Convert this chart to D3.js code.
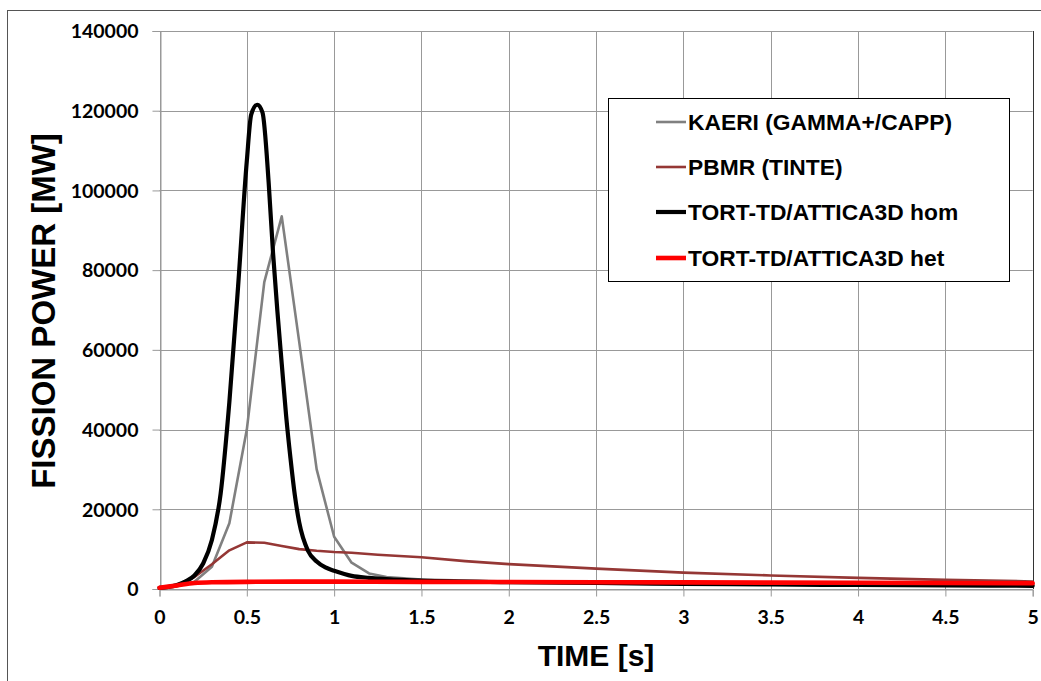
<!DOCTYPE html>
<html>
<head>
<meta charset="utf-8">
<script src="https://cdn.jsdelivr.net/npm/d3@7"></script>
<style>
  html, body { margin: 0; padding: 0; background: #fff; }
  svg { display: block; }
</style>
</head>
<body>
<svg id="chart" width="1041" height="681"></svg>
<script>
// Fission power transient: code-to-code comparison

// KAERI (GAMMA+/CAPP)
const kaeriTime  = [0, 0.1, 0.2, 0.3, 0.4, 0.5, 0.6, 0.7, 0.8, 0.9, 1.0, 1.1, 1.2, 1.3, 1.5, 2.0, 2.5, 3.0, 3.5, 4.0, 4.5, 5.0];
const kaeriPower = [300, 700, 1800, 5600, 16500, 40000, 77000, 93500, 62000, 30000, 13100, 6600, 3900, 3000, 2400, 1900, 1700, 1500, 1400, 1300, 1250, 1200];

// PBMR (TINTE)
const pbmrTime  = [0, 0.1, 0.2, 0.3, 0.4, 0.5, 0.6, 0.7, 0.8, 0.9, 1.0, 1.1, 1.25, 1.5, 1.75, 2.0, 2.5, 3.0, 3.5, 4.0, 4.5, 5.0];
const pbmrPower = [300, 1000, 3000, 6200, 9700, 11700, 11600, 10800, 10000, 9600, 9300, 9100, 8600, 7950, 7000, 6250, 5100, 4100, 3400, 2800, 2300, 1900];

// TORT-TD/ATTICA3D homogeneous
const homTime  = [0, 0.05, 0.1, 0.15, 0.2, 0.25, 0.3, 0.35, 0.4, 0.45, 0.5, 0.525, 0.56, 0.59, 0.625, 0.65, 0.675, 0.7, 0.725, 0.75, 0.775, 0.8, 0.85, 0.9, 0.95, 1.0, 1.1, 1.2, 1.3, 1.5, 2.0, 2.5, 3.0, 3.5, 4.0, 4.5, 5.0];
const homPower = [300, 500, 1000, 1900, 3400, 6400, 12300, 23900, 46900, 75900, 107400, 119000, 121500, 119500, 102000, 84400, 69700, 56500, 43500, 32800, 23500, 16700, 9600, 6900, 5400, 4600, 3300, 2800, 2500, 2100, 1700, 1500, 1300, 1150, 1000, 900, 800];

// TORT-TD/ATTICA3D heterogeneous
const hetTime  = [0, 0.1, 0.2, 0.3, 0.5, 1.0, 1.5, 2.0, 3.0, 4.0, 5.0];
const hetPower = [300, 900, 1500, 1700, 1800, 1850, 1800, 1750, 1650, 1550, 1450];

const xTicks = [0, 0.5, 1, 1.5, 2, 2.5, 3, 3.5, 4, 4.5, 5];
const yTicks = [0, 20000, 40000, 60000, 80000, 100000, 120000, 140000];

const seriesNames = ["KAERI (GAMMA+/CAPP)", "PBMR (TINTE)", "TORT-TD/ATTICA3D hom", "TORT-TD/ATTICA3D het"];

const series = [
  { name: seriesNames[0], t: kaeriTime, p: kaeriPower, color: "#808080", width: 2.6, curve: d3.curveLinear },
  { name: seriesNames[1], t: pbmrTime,  p: pbmrPower,  color: "#953735", width: 2.6, curve: d3.curveLinear },
  { name: seriesNames[2], t: homTime,   p: homPower,   color: "#000000", width: 4.2, curve: d3.curveMonotoneX },
  { name: seriesNames[3], t: hetTime,   p: hetPower,   color: "#ff0000", width: 4.6, curve: d3.curveMonotoneX }
];

const svg = d3.select("#chart");
const W = 1041, H = 681;
const plot = { left: 159.5, right: 1032.7, top: 31, bottom: 589 };

// chart frame
svg.append("rect").attr("x", 0).attr("y", 0).attr("width", W).attr("height", H).attr("fill", "#fff");
svg.append("rect")
  .attr("x", 7.5).attr("y", 10.5).attr("width", 1045).attr("height", 690)
  .attr("fill", "none").attr("stroke", "#555").attr("stroke-width", 1);

const x = d3.scaleLinear().domain([0, 5]).range([plot.left, plot.right]);
const y = d3.scaleLinear().domain([0, 140000]).range([plot.bottom, plot.top]);

const tickFont = "Lato, 'Open Sans', sans-serif";
const titleFont = "'Liberation Sans', Arial, sans-serif";

// gridlines
const grid = svg.append("g");
grid.selectAll("line.h").data(yTicks).join("line")
  .attr("x1", plot.left).attr("x2", plot.right)
  .attr("y1", d => Math.round(y(d)) + 0.5).attr("y2", d => Math.round(y(d)) + 0.5)
  .attr("stroke", "#999").attr("stroke-width", 1);
grid.selectAll("line.v").data(xTicks).join("line")
  .attr("x1", d => Math.round(x(d)) + 0.5).attr("x2", d => Math.round(x(d)) + 0.5)
  .attr("y1", plot.top).attr("y2", plot.bottom)
  .attr("stroke", d => d === 5 ? "#333" : "#999").attr("stroke-width", 1);

// axes
const yAxis = d3.axisLeft(y).tickValues(yTicks).tickSize(8).tickPadding(14).tickFormat(d3.format("d"));
const xAxis = d3.axisBottom(x).tickValues(xTicks).tickSize(7).tickPadding(14).tickFormat(d => String(d));

const gy = svg.append("g").attr("transform", `translate(${Math.round(plot.left) + 0.5},0)`).call(yAxis);
const gx = svg.append("g").attr("transform", `translate(0,${Math.round(plot.bottom) + 0.5})`).call(xAxis);
[gx, gy].forEach(g => {
  g.select(".domain").attr("stroke", "#999");
  g.selectAll(".tick line").attr("stroke", "#999");
  g.selectAll(".tick text")
    .attr("fill", "#000")
    .style("font-family", tickFont)
    .style("font-weight", "700")
    .style("font-size", "19.5px");
});
gy.selectAll(".tick text").attr("dy", "0.35em");
gx.selectAll(".tick text").attr("dy", "0.71em");

// axis titles
svg.append("text")
  .attr("x", 596).attr("y", 666)
  .attr("text-anchor", "middle")
  .style("font-family", titleFont).style("font-weight", "700").style("font-size", "30px")
  .text("TIME [s]");
svg.append("text")
  .attr("transform", "translate(55,311) rotate(-90)")
  .attr("text-anchor", "middle")
  .style("font-family", titleFont).style("font-weight", "700").style("font-size", "33px")
  .text("FISSION POWER [MW]");

// data lines
const lines = svg.append("g");
series.forEach(s => {
  const pts = s.t.map((t, i) => [t, s.p[i]]);
  const gen = d3.line().x(d => x(d[0])).y(d => y(d[1])).curve(s.curve);
  lines.append("path")
    .attr("d", gen(pts))
    .attr("fill", "none")
    .attr("stroke", s.color)
    .attr("stroke-width", s.width)
    .attr("stroke-linejoin", "round")
    .attr("stroke-linecap", "round");
});

// legend
const legend = svg.append("g");
legend.append("rect")
  .attr("x", 608.5).attr("y", 98.5).attr("width", 401).attr("height", 183)
  .attr("fill", "#fff").attr("stroke", "#000").attr("stroke-width", 1);
const rowY = [122, 167, 212, 258];
series.forEach((s, i) => {
  legend.append("line")
    .attr("x1", 656).attr("x2", 686)
    .attr("y1", rowY[i]).attr("y2", rowY[i])
    .attr("stroke", s.color).attr("stroke-width", s.width);
  legend.append("text")
    .attr("x", 688).attr("y", rowY[i]).attr("dy", "0.36em")
    .style("font-family", titleFont).style("font-weight", "700").style("font-size", "22.8px")
    .text(s.name);
});
</script>
</body>
</html>
